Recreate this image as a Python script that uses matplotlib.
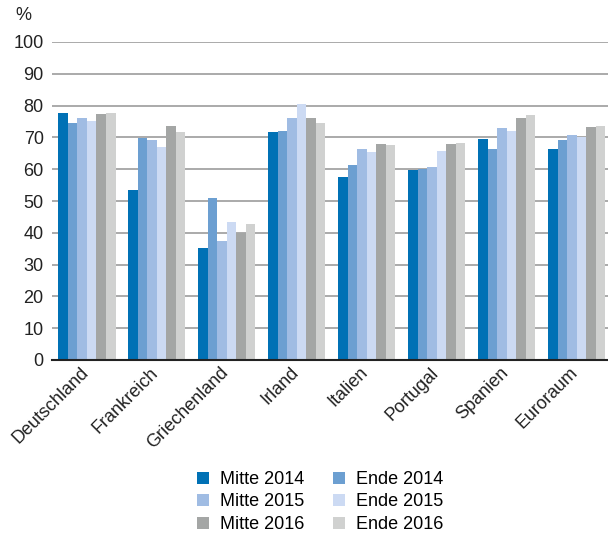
import matplotlib
matplotlib.use("Agg")
import matplotlib.pyplot as plt
import matplotlib.transforms as mtransforms
import numpy as np

plt.rcParams['font.family'] = ['Liberation Sans', 'DejaVu Sans']

categories = ["Deutschland", "Frankreich", "Griechenland", "Irland", "Italien", "Portugal", "Spanien", "Euroraum"]
series_names = ["Mitte 2014", "Ende 2014", "Mitte 2015", "Ende 2015", "Mitte 2016", "Ende 2016"]
mitte_2014 = [77.7, 53.5, 35.2, 71.7, 57.5, 59.7, 69.5, 66.4]
ende_2014 = [74.5, 69.8, 50.9, 72.0, 61.3, 60.1, 66.4, 69.2]
mitte_2015 = [76.1, 69.2, 37.4, 76.1, 66.4, 60.7, 73.0, 70.8]
ende_2015 = [75.2, 67.0, 43.4, 80.5, 65.4, 65.7, 72.0, 70.1]
mitte_2016 = [77.4, 73.6, 39.9, 76.1, 67.9, 67.9, 76.1, 73.3]
ende_2016 = [77.7, 71.7, 42.8, 74.5, 67.6, 68.2, 77.0, 73.6]
yticks = [0, 10, 20, 30, 40, 50, 60, 70, 80, 90, 100]

series = [mitte_2014, ende_2014, mitte_2015, ende_2015, mitte_2016, ende_2016]
colors = ["#0071b5", "#6c9fd1", "#a0bce3", "#ccdaf3", "#a4a6a5", "#d0d1d0"]
FS = 13

fig = plt.figure(figsize=(6.08, 5.33), dpi=100)
ax = fig.add_axes([52/608, 1-360/533, 556/608, (360-42)/533])

x = np.arange(len(categories))
w = 0.136
handles = []
for i, (vals, c, name) in enumerate(zip(series, colors, series_names)):
    b = ax.bar(x + (i - 2.5) * w, vals, width=w, color=c, label=name, zorder=3, linewidth=0)
    handles.append(b)

ax.set_ylim(0, 100)
ax.set_xlim(-0.5, 7.45)
ax.set_yticks(yticks)
ax.yaxis.grid(True, color="#9c9c9c", linewidth=1.2, zorder=0)
ax.set_axisbelow(True)
for s in ["top", "right", "left"]:
    ax.spines[s].set_visible(False)
ax.spines["bottom"].set_color("#222222")
ax.spines["bottom"].set_linewidth(1.5)
ax.spines["bottom"].set_zorder(4)
ax.tick_params(axis="y", length=0, pad=6, labelsize=FS, colors="#222222")
ax.tick_params(axis="x", length=0, pad=3, labelsize=FS, colors="#222222")
ax.set_xticks(x)
ax.set_xticklabels(categories, rotation=45, ha="right", va="top", rotation_mode="anchor")
offset = mtransforms.ScaledTranslation(-5/72, 0, fig.dpi_scale_trans)
for lab in ax.get_xticklabels():
    lab.set_transform(lab.get_transform() + offset)

fig.text(15/608, 1-15/533, "%", fontsize=FS, color="#222222", va="center", ha="left")

order = [0, 2, 4, 1, 3, 5]
leg = fig.legend(handles=[handles[i] for i in order], labels=[series_names[i] for i in order],
                 ncol=2, loc="center",
                 bbox_to_anchor=(320/608, 1-502/533), frameon=False, fontsize=FS,
                 handlelength=0.65, handleheight=0.65, handletextpad=0.6,
                 columnspacing=1.6, labelspacing=0.3)

fig.savefig("out.png", dpi=100)
